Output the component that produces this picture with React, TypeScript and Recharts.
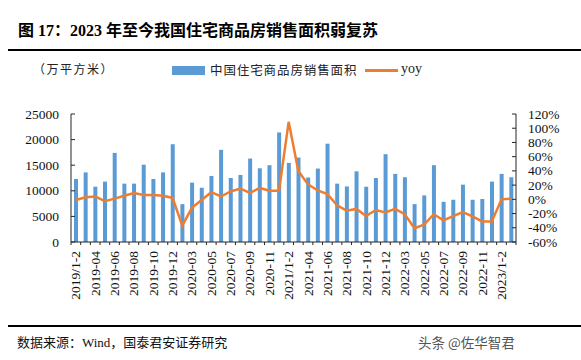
import { ComposedChart, Bar, Line, XAxis, YAxis, Legend } from 'recharts';

const months = [
  '2019/1-2', '2019-03', '2019-04', '2019-05', '2019-06', '2019-07', '2019-08', '2019-09', '2019-10', '2019-11', '2019-12',
  '2020/1-2', '2020-03', '2020-04', '2020-05', '2020-06', '2020-07', '2020-08', '2020-09', '2020-10', '2020-11', '2020-12',
  '2021/1-2', '2021-03', '2021-04', '2021-05', '2021-06', '2021-07', '2021-08', '2021-09', '2021-10', '2021-11', '2021-12',
  '2022/1-2', '2022-03', '2022-04', '2022-05', '2022-06', '2022-07', '2022-08', '2022-09', '2022-10', '2022-11', '2022-12',
  '2023/1-2', '2023-03',
];

// 万平方米
const salesArea = [
  12300, 13600, 10800, 11800, 17400, 11400, 11400, 15100, 12300, 13600, 19100,
  7400, 11600, 10600, 12900, 18000, 12500, 13100, 16300, 14400, 15000, 21400,
  15450, 16500, 12600, 14350, 19200, 11400, 10850, 13800, 10800, 12500, 17150,
  13300, 12650, 7400, 9100, 15000, 7850, 8250, 11200, 8250, 8400, 11800,
  13300, 12650,
];

// %
const yoy = [
  -1, 3, 4, -2.5, 1, 5, 9, 6, 6, 5, 2,
  -37, -12, -1, 10, 4, 11, 15, 9, 16, 12, 12,
  109, 40, 21, 12.5, 7.5, -8.5, -16, -13.5, -23.5, -15, -18.5,
  -13.5, -21, -40.5, -35.5, -21, -29.5, -23.5, -18, -24, -31, -31,
  0, 1,
];

const leftTicks = [0, 5000, 10000, 15000, 20000, 25000];
const rightTicks = [-60, -40, -20, 0, 20, 40, 60, 80, 100, 120];

const data = months.map((m, i) => ({ month: m, area: salesArea[i], yoy: yoy[i] }));

const W = 581;
const H = 360;
const PLOT_L = 71;
const PLOT_R = 516;
const PLOT_T = 94;
const PLOT_B = 242;
const LEFT_AXIS_W = 60;
const RIGHT_AXIS_W = 55;
const X_AXIS_H = 60;

const BLUE = '#5B9BD5';
const ORANGE = '#ED7D31';
const AXIS = '#262626';
const SERIF = "'Liberation Serif', 'Times New Roman', serif";
const CJK = "'Noto Sans CJK SC', sans-serif";

const BAND = (PLOT_R - PLOT_L) / months.length;

const XTick = ({ x, y, payload, index }: any) => (
  <g>
    <line x1={x + BAND / 2} y1={PLOT_B} x2={x + BAND / 2} y2={PLOT_B + 3} stroke={AXIS} strokeWidth={1} />
    {index === 0 && <line x1={x - BAND / 2} y1={PLOT_B} x2={x - BAND / 2} y2={PLOT_B + 3} stroke={AXIS} />}
    {index % 2 === 0 && (
      <text
        transform={`translate(${x + 4.5},${y + 4}) rotate(-90)`}
        textAnchor="end"
        fill="#111"
        fontSize={13.5}
        fontFamily={SERIF}
      >
        {payload.value}
      </text>
    )}
  </g>
);

const LeftTick = ({ x, y, payload }: any) => (
  <g>
    <line x1={PLOT_L} y1={y} x2={PLOT_L + 4} y2={y} stroke={AXIS} />
    <text x={x} y={y + 4.5} textAnchor="end" fill="#111" fontSize={13.5} fontFamily={SERIF}>
      {payload.value}
    </text>
  </g>
);

const RightTick = ({ x, y, payload }: any) => (
  <g>
    <line x1={PLOT_R - 4} y1={y} x2={PLOT_R} y2={y} stroke={AXIS} />
    <text x={x} y={y + 4.5} textAnchor="start" fill="#111" fontSize={13.5} fontFamily={SERIF}>
      {payload.value}%
    </text>
  </g>
);

const LegendContent = () => (
  <div style={{ position: 'relative', height: 20, fontFamily: CJK, fontSize: 12.5, color: '#222' }}>
    <span style={{ position: 'absolute', left: 172, top: 4, width: 33, height: 9, background: BLUE }} />
    <span style={{ position: 'absolute', left: 210, top: -2, letterSpacing: 0.9 }}>中国住宅商品房销售面积</span>
    <span style={{ position: 'absolute', left: 365, top: 7, width: 33, height: 3, background: ORANGE }} />
    <span style={{ position: 'absolute', left: 401, top: -1, fontFamily: SERIF, fontSize: 14 }}>yoy</span>
  </div>
);

export default function App() {
  return (
    <div style={{ position: 'absolute', left: 0, top: 0, width: W, height: H, background: '#fff', overflow: 'hidden' }}>
      <div
        style={{
          position: 'absolute',
          left: 18,
          top: 17,
          fontFamily: `${SERIF.split(',')[0]}, ${CJK}`,
          fontWeight: 700,
          fontSize: 16,
          color: '#000',
          whiteSpace: 'nowrap',
        }}
      >
        图 17：2023 年至今我国住宅商品房销售面积弱复苏
      </div>
      <div style={{ position: 'absolute', left: 8, top: 49, width: W - 8, height: 2, background: '#000' }} />

      <div
        style={{
          position: 'absolute',
          left: 33,
          top: 60,
          fontFamily: CJK,
          fontSize: 12,
          letterSpacing: 1.5,
          color: '#222',
          whiteSpace: 'nowrap',
        }}
      >
        （万平方米）
      </div>

      <div style={{ position: 'absolute', left: 0, top: 0 }}>
        <ComposedChart
          width={W}
          height={H}
          data={data}
          margin={{
            top: PLOT_T,
            right: W - PLOT_R - RIGHT_AXIS_W,
            bottom: H - PLOT_B - X_AXIS_H,
            left: PLOT_L - LEFT_AXIS_W,
          }}
          barSize={4}
        >
          <XAxis
            dataKey="month"
            interval={0}
            height={X_AXIS_H}
            tick={<XTick />}
            tickLine={false}
            tickSize={0}
            tickMargin={5}
            axisLine={{ stroke: AXIS }}
          />
          <YAxis
            yAxisId="left"
            orientation="left"
            width={LEFT_AXIS_W}
            domain={[0, 25000]}
            ticks={leftTicks}
            interval={0}
            tick={<LeftTick />}
            tickLine={false}
            tickSize={0}
            tickMargin={12}
            axisLine={{ stroke: AXIS }}
          />
          <YAxis
            yAxisId="right"
            orientation="right"
            width={RIGHT_AXIS_W}
            domain={[-60, 120]}
            ticks={rightTicks}
            interval={0}
            tick={<RightTick />}
            tickLine={false}
            tickSize={0}
            tickMargin={12}
            axisLine={{ stroke: AXIS }}
          />
          <Legend
            verticalAlign="top"
            content={<LegendContent />}
            wrapperStyle={{ position: 'absolute', top: 62, left: 0, width: W }}
          />
          <Bar yAxisId="left" dataKey="area" name="中国住宅商品房销售面积" fill={BLUE} isAnimationActive={false} />
          <Line
            yAxisId="right"
            dataKey="yoy"
            name="yoy"
            type="linear"
            stroke={ORANGE}
            strokeWidth={2.5}
            dot={false}
            isAnimationActive={false}
          />
        </ComposedChart>
      </div>

      <div style={{ position: 'absolute', left: 8, top: 325, width: W - 8, height: 2, background: '#000' }} />
      <div
        style={{
          position: 'absolute',
          left: 17,
          top: 332,
          fontFamily: `${SERIF.split(',')[0]}, ${CJK}`,
          fontSize: 13,
          color: '#111',
          whiteSpace: 'nowrap',
        }}
      >
        数据来源：Wind，国泰君安证券研究
      </div>
      <div
        style={{
          position: 'absolute',
          left: 418,
          top: 332,
          fontFamily: CJK,
          fontSize: 13.5,
          color: '#555',
          whiteSpace: 'nowrap',
        }}
      >
        头条 @佐华智君
      </div>
    </div>
  );
}
